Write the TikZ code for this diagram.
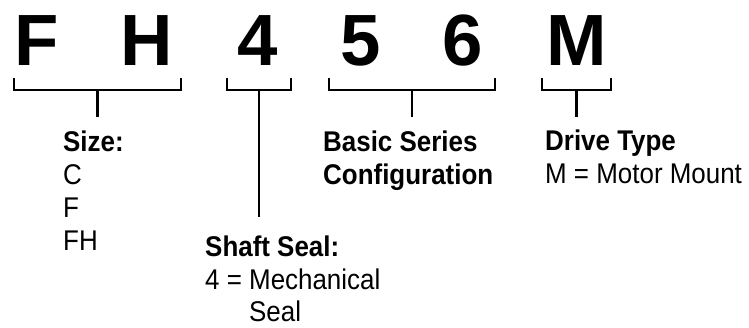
\documentclass[tikz,border=0pt]{standalone}
\usepackage{fontspec}
\setmainfont{Liberation Sans}
\newfontfamily\narrowsans[FakeStretch=0.91]{Liberation Sans}
\tikzset{
  code/.style = {font=\fontsize{72.6}{72.6}\selectfont\bfseries, anchor=base, inner sep=0pt},
  legend/.style = {font=\narrowsans\fontsize{28.5}{33}\selectfont, align=left, anchor=base west, inner sep=0pt},
  brace/.style = {line width=2.6pt}
}

\begin{document}
\begin{tikzpicture}[x=1pt,y=-1pt]
  \useasboundingbox (0,0) rectangle (749,328);
  % model code
  \node[code] (F) at (36.5,66) {F};
  \node[code] (H) at (147,66) {H};
  \node[code] (four) at (257.5,66) {4};
  \node[code] (five) at (361,66) {5};
  \node[code] (six) at (462.5,66) {6};
  \node[code] (M) at (576.5,66) {M};
  % brackets
  \foreach \n/\l/\r/\e in {size/14/181/117, seal/227/291/217, series/329/495/117, drive/542/611/117} {
    \coordinate (\n-l) at (\l,78);
    \coordinate (\n-r) at (\r,78);
    \coordinate (\n-m) at ({(\l+\r)/2},90);
    \coordinate (\n-e) at ({(\l+\r)/2},\e);
    \draw[brace] (\n-l) -- ++(0,12) -| (\n-r);
    \draw[brace] (\n-m) -- (\n-e);
  }
  % legends (base = last line)
  \node[legend] (size) at (63,251) {\textbf{Size:}\\C\\F\\FH};
  \node[legend] (seal) at (205,322) {\textbf{Shaft Seal:}\\4 = Mechanical\\\hphantom{4 = }Seal};
  \node[legend] (series) at (323,185) {\textbf{Basic Series}\\\textbf{Configuration}};
  \node[legend] (drive) at (545,184) {\textbf{Drive Type}\\M = Motor Mount};
\end{tikzpicture}
\end{document}
